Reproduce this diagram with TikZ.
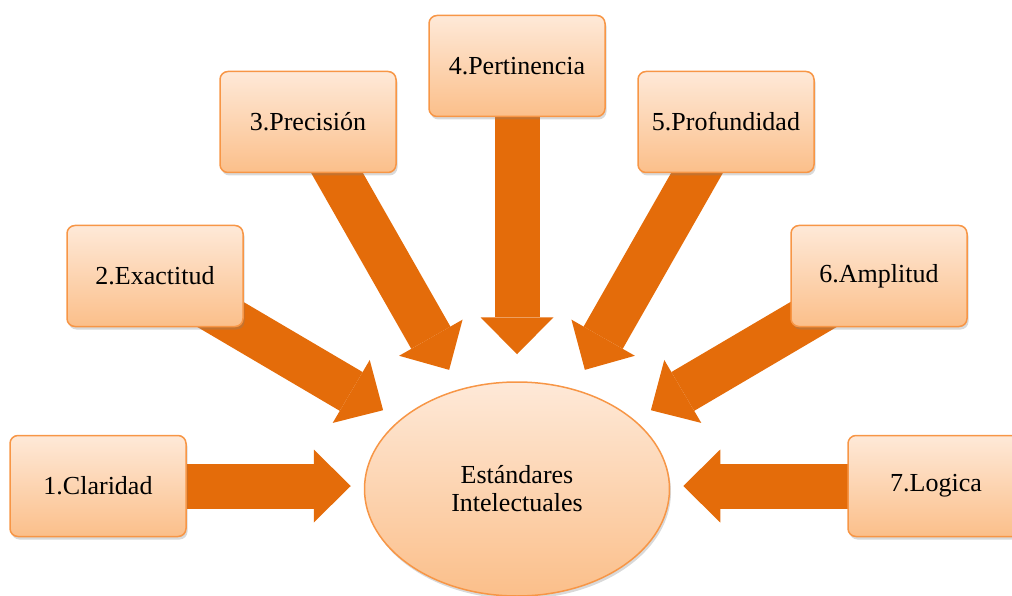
\documentclass[tikz,border=0pt]{standalone}
\usepackage{fontspec}
\setmainfont{Liberation Serif}
\usetikzlibrary{arrows.meta,shadows,backgrounds,shapes.geometric}
\definecolor{borde}{RGB}{247,150,70}
\definecolor{claro}{RGB}{254,233,216}
\definecolor{oscuro}{RGB}{251,191,138}
\definecolor{flechacol}{RGB}{228,108,10}
\tikzset{
  caja/.style={draw=borde, line width=1.5pt, rounded corners=8pt,
    top color=claro, bottom color=oscuro,
    minimum width=176pt, minimum height=101pt,
    drop shadow={opacity=0.3, shadow xshift=1.5pt, shadow yshift=-3pt},
    font=\fontsize{26}{28}\selectfont},
  flecha/.style={line width=45pt, draw=flechacol,
    -{Triangle[width=73pt, length=37pt, line width=0pt]}}
}
\begin{document}
\begin{tikzpicture}[x=1pt, y=-1pt]
    \useasboundingbox (0,0) rectangle (1012,596);
    \node[caja] (b1) at (98,486) {1.Claridad};
    \node[caja] (b2) at (155,276) {2.Exactitud};
    \node[caja] (b3) at (308,122) {3.Precisión};
    \node[caja] (b4) at (517,66) {4.Pertinencia};
    \node[caja] (b5) at (726,122) {5.Profundidad};
    \node[caja] (b6) at (879,276) {6.Amplitud};
    \node[caja] (b7) at (936,486) {7.Logica};
    \node[ellipse, draw=borde, line width=1.5pt,
      top color=claro, bottom color=oscuro,
      minimum width=305pt, minimum height=214pt, inner sep=0pt,
      drop shadow={opacity=0.3, shadow xshift=1.5pt, shadow yshift=-3pt},
      align=center, font=\fontsize{26}{28}\selectfont]
      (c) at (517,489) {Estándares\\Intelectuales};
    \begin{pgfonlayer}{background}
    \draw[flecha, shorten >=13pt] (b1.center) -- (b1.center -| c.west);
    \draw[flecha, shorten >=19pt] (b2.center) -- (c);
    \draw[flecha, shorten >=22pt] (b3.center) -- (c);
    \draw[flecha, shorten >=27pt] (b4.center) -- (c);
    \draw[flecha, shorten >=22pt] (b5.center) -- (c);
    \draw[flecha, shorten >=19pt] (b6.center) -- (c);
    \draw[flecha, shorten >=13pt] (b7.center) -- (b7.center -| c.east);
    \end{pgfonlayer}
\end{tikzpicture}
\end{document}
